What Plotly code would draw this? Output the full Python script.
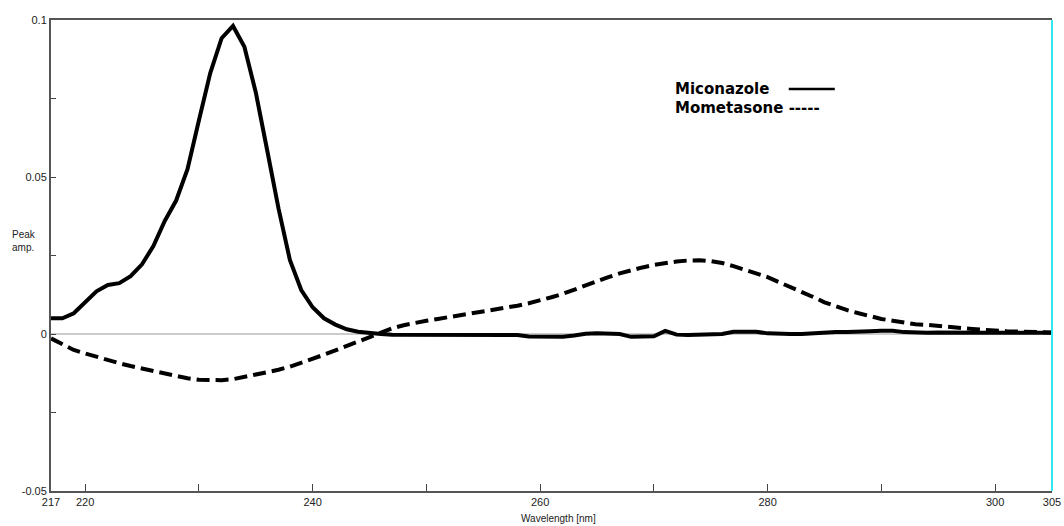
import plotly.graph_objects as go

wavelength = list(range(217, 306))

miconazole = [
    0.0050, 0.0050, 0.0066, 0.0100, 0.0136, 0.0156, 0.0162, 0.0184, 0.0222, 0.0280,  # 217-226
    0.0360, 0.0425, 0.0525, 0.0680, 0.0831, 0.0942, 0.0981, 0.0915, 0.0770, 0.0586,  # 227-236
    0.0400, 0.0236, 0.0140, 0.0085, 0.0050, 0.0030, 0.0015, 0.0007, 0.0002, 0.0000,  # 237-246
    -0.0002, -0.0002, -0.0002, -0.0002, -0.0002, -0.0002, -0.0002, -0.0002, -0.0002, -0.0002,  # 247-256
    -0.0002, -0.0003, -0.0008, -0.0009, -0.0009, -0.0009, -0.0005, 0.0001, 0.0002, 0.0002,  # 257-266
    0.0000, -0.0009, -0.0009, -0.0007, 0.0010, -0.0002, -0.0003, -0.0003, -0.0003, 0.0000,  # 267-276
    0.0007, 0.0007, 0.0007, 0.0002, 0.0000, 0.0000, 0.0000, 0.0002, 0.0006, 0.0006,  # 277-286
    0.0006, 0.0006, 0.0009, 0.0010, 0.0010, 0.0006, 0.0004, 0.0004, 0.0005, 0.0004,  # 287-296
    0.0004, 0.0003, 0.0004, 0.0004, 0.0005, 0.0003, 0.0004, 0.0004, 0.0004,  # 297-305
]

mometasone = [
    -0.0014, -0.0033, -0.0051, -0.0062, -0.0073, -0.0084, -0.0093, -0.0102, -0.0110, -0.0119,  # 217-226
    -0.0128, -0.0136, -0.0141, -0.0146, -0.0147, -0.0147, -0.0144, -0.0137, -0.0130, -0.0122,  # 227-236
    -0.0114, -0.0104, -0.0092, -0.0080, -0.0066, -0.0052, -0.0038, -0.0024, -0.0010, 0.0005,  # 237-246
    0.0018, 0.0028, 0.0036, 0.0042, 0.0048, 0.0054, 0.0059, 0.0064, 0.0070, 0.0076,  # 247-256
    0.0083, 0.0090, 0.0098, 0.0106, 0.0117, 0.0128, 0.0142, 0.0155, 0.0168, 0.0181,  # 257-266
    0.0193, 0.0204, 0.0212, 0.0220, 0.0226, 0.0231, 0.0234, 0.0235, 0.0232, 0.0226,  # 267-276
    0.0216, 0.0204, 0.0193, 0.0181, 0.0165, 0.0150, 0.0134, 0.0118, 0.0101, 0.0088,  # 277-286
    0.0076, 0.0066, 0.0056, 0.0048, 0.0042, 0.0036, 0.0031, 0.0029, 0.0025, 0.0022,  # 287-296
    0.0019, 0.0016, 0.0013, 0.0010, 0.0009, 0.0008, 0.0007, 0.0006, 0.0005,  # 297-305
]

x_tickvals = [217, 220, 230, 240, 250, 260, 270, 280, 290, 300, 305]
x_ticktext = ["217", "220", "", "240", "", "260", "", "280", "", "300", "305"]
y_tickvals = [-0.05, -0.025, 0, 0.025, 0.05, 0.075, 0.1]
y_ticktext = ["-0.05", "", "0", "", "0.05", "", "0.1"]

fig = go.Figure()
fig.add_trace(go.Scatter(
    x=wavelength, y=miconazole, mode="lines", name="Miconazole",
    line=dict(color="black", width=4),
))
fig.add_trace(go.Scatter(
    x=wavelength, y=mometasone, mode="lines", name="Mometasone",
    line=dict(color="black", width=4, dash="13px,6px"),
))

tick_font = dict(family="Liberation Sans, Arial, sans-serif", size=11, color="#222")
legend_font = dict(family="DejaVu Sans, Verdana, sans-serif", size=15, color="black")

fig.update_layout(
    width=1064, height=526,
    margin=dict(l=51, r=12, t=20, b=35),
    paper_bgcolor="white", plot_bgcolor="white",
    showlegend=False,
    xaxis=dict(
        range=[217, 305], tickvals=x_tickvals, ticktext=x_ticktext,
        ticks="inside", ticklen=7, tickcolor="#444", tickwidth=1,
        showline=True, linecolor="#555", linewidth=2, mirror=True,
        showgrid=False, zeroline=False, tickfont=tick_font, automargin=False,
    ),
    yaxis=dict(
        range=[-0.05, 0.1], tickvals=y_tickvals, ticktext=y_ticktext,
        ticks="inside", ticklen=5, tickcolor="#444", tickwidth=1,
        showline=True, linecolor="#555", linewidth=2, mirror=False,
        showgrid=False, zeroline=True, zerolinecolor="#cccccc", zerolinewidth=2,
        tickfont=tick_font, automargin=False,
    ),
    shapes=[
        dict(type="line", xref="paper", yref="paper", x0=1, x1=1, y0=0, y1=1,
             line=dict(color="#33e8f0", width=2)),
        dict(type="line", xref="paper", yref="paper", x0=0.737, x1=0.783, y0=0.8535, y1=0.8535,
             line=dict(color="black", width=2.5)),
    ],
    annotations=[
        dict(text="Wavelength [nm]", xref="paper", yref="paper", x=0.507, y=-0.059,
             showarrow=False, xanchor="center", yanchor="middle",
             font=dict(family="Liberation Sans, Arial, sans-serif", size=10, color="#222")),
        dict(text="Peak<br>amp.", xref="paper", yref="paper", x=-0.041, y=0.53,
             showarrow=False, xanchor="left", yanchor="middle", align="left",
             font=dict(family="Liberation Sans, Arial, sans-serif", size=10, color="#222")),
        dict(text="<b>Miconazole</b>", xref="paper", yref="paper", x=0.621, y=0.853,
             showarrow=False, xanchor="left", yanchor="middle", font=legend_font),
        dict(text="<b>Mometasone -----</b>", xref="paper", yref="paper", x=0.621, y=0.813,
             showarrow=False, xanchor="left", yanchor="middle", font=legend_font),
    ],
)

fig.write_html("out.html")
